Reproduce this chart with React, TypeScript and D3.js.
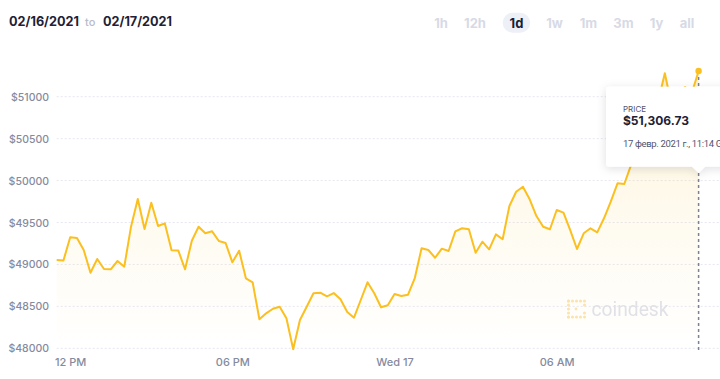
import React from "react";
import * as d3 from "d3";

const W = 720;
const H = 379;

const startTime = new Date(2021, 1, 16, 11, 29);
const stepMinutes = 15;

const prices = [
  49053, 49048, 49324, 49315, 49172, 48901, 49065, 48946, 48942, 49041,
  48973, 49450, 49780, 49422, 49736, 49458, 49490, 49168, 49165, 48942,
  49283, 49450, 49371, 49395, 49279, 49255, 49025, 49164, 48835, 48787,
  48346, 48417, 48472, 48496, 48358, 47988, 48337, 48496, 48656, 48663,
  48620, 48659, 48584, 48433, 48365, 48576, 48787, 48656, 48489, 48513,
  48647, 48624, 48639, 48838, 49192, 49172, 49080, 49188, 49160, 49395,
  49431, 49419, 49140, 49271, 49180, 49359, 49300, 49697, 49867, 49927,
  49777, 49577, 49450, 49419, 49649, 49617, 49410, 49184, 49371, 49431,
  49383, 49550, 49748, 49967, 49959, 50185, 50364, 50567, 50746, 50937,
  51280, 50901, 51044, 51116, 51044, 51306.73,
];

const yTicks = [48000, 48500, 49000, 49500, 50000, 50500, 51000];

const xTickDates = [
  new Date(2021, 1, 16, 12),
  new Date(2021, 1, 16, 18),
  new Date(2021, 1, 17, 0),
  new Date(2021, 1, 17, 6),
];
const xTickLabels = ["12 PM", "06 PM", "Wed 17", "06 AM"];

const ranges = ["1h", "12h", "1d", "1w", "1m", "3m", "1y", "all"];
const rangeX = [441, 475, 516.5, 554.5, 588.5, 623.5, 656.5, 687];
const activeRange = "1d";

const fromDate = "02/16/2021";
const toDate = "02/17/2021";
const tooltipLabel = "PRICE";
const tooltipValue = "$51,306.73";
const tooltipDate = "17 февр. 2021 г., 11:14 GMT+3";

const FONT = "Inter, 'Noto Sans', sans-serif";

export default function App() {
  const data = prices.map((p, i) => ({
    t: new Date(startTime.getTime() + i * stepMinutes * 60000),
    v: p,
  }));
  const x = d3
    .scaleTime()
    .domain([data[0].t, data[data.length - 1].t])
    .range([56.7, 698.6]);
  const y = d3.scaleLinear().domain([48000, 51000]).range([348.3, 96.7]);

  const line = d3
    .line<{ t: Date; v: number }>()
    .x((d) => x(d.t))
    .y((d) => y(d.v));
  const area = d3
    .area<{ t: Date; v: number }>()
    .x((d) => x(d.t))
    .y0(y(48000))
    .y1((d) => y(d.v));

  const last = data[data.length - 1];
  const lx = x(last.t);
  const ly = y(last.v);

  const tipX = 606;
  const tipY = 86.7;
  const tipH = 80;

  return (
    <div style={{ position: "fixed", left: 0, top: 0 }}>
      <svg width={W} height={H} style={{ display: "block", background: "#fff" }}>
        <defs>
          <linearGradient id="fillGrad" x1="0" y1={y(51306)} x2="0" y2={y(48000)} gradientUnits="userSpaceOnUse">
            <stop offset="0" stopColor="#fbd46b" stopOpacity="0.28" />
            <stop offset="0.55" stopColor="#fbd46b" stopOpacity="0.1" />
            <stop offset="1" stopColor="#fbd46b" stopOpacity="0.0" />
          </linearGradient>
          <filter id="shadow" x="-20%" y="-30%" width="140%" height="160%">
            <feDropShadow dx="0" dy="2" stdDeviation="5" floodColor="#1a1f36" floodOpacity="0.13" />
          </filter>
        </defs>

        {/* header */}
        <text x={9} y={25.5} fontFamily={FONT} fontSize={13} fontWeight={700} fill="#1d2236" textLength={70} lengthAdjust="spacingAndGlyphs">
          {fromDate}
        </text>
        <text x={85} y={25.5} fontFamily={FONT} fontSize={11} fontWeight={500} fill="#b9bccb">
          to
        </text>
        <text x={103} y={25.5} fontFamily={FONT} fontSize={13} fontWeight={700} fill="#1d2236" textLength={69} lengthAdjust="spacingAndGlyphs">
          {toDate}
        </text>
        <rect x={502.7} y={12.7} width={27.5} height={20} rx={10} fill="#eef0f8" />
        {ranges.map((r, i) => (
          <text
            key={r}
            x={rangeX[i]}
            y={28.3}
            textAnchor="middle"
            fontFamily={FONT}
            fontSize={13}
            fontWeight={700}
            fill={r === activeRange ? "#1a1f36" : "#d7dae6"}
          >
            {r}
          </text>
        ))}

        {/* grid */}
        {yTicks.map((t) => (
          <g key={t}>
            <line
              x1={56.7}
              x2={W}
              y1={y(t)}
              y2={y(t)}
              stroke="#e6e7f2"
              strokeWidth={1}
              strokeDasharray="2,2"
            />
            <text
              x={49}
              y={y(t) + 4}
              textAnchor="end"
              fontFamily={FONT}
              fontSize={10.5}
              fontWeight={500}
              fill="#858a9e"
            >
              {`$${t}`}
            </text>
          </g>
        ))}

        {/* x axis labels */}
        {xTickDates.map((d, i) => (
          <text
            key={i}
            x={x(d)}
            y={366}
            textAnchor="middle"
            fontFamily={FONT}
            fontSize={11}
            fontWeight={500}
            fill="#858a9e"
          >
            {xTickLabels[i]}
          </text>
        ))}

        {/* watermark */}
        <g opacity={0.9}>
          {[0, 1, 2, 3, 4].map((k) => (
            <g key={k}>
              <circle cx={568.5 + k * 4} cy={301} r={1.6} fill="#fbe3a6" />
              <circle cx={568.5 + k * 4} cy={317} r={1.6} fill="#fbe3a6" />
              <circle cx={568.5} cy={301 + k * 4} r={1.6} fill="#fbe3a6" />
            </g>
          ))}
          <circle cx={584.5} cy={305} r={1.6} fill="#fbe3a6" />
          <circle cx={584.5} cy={313} r={1.6} fill="#fbe3a6" />
          <circle cx={576} cy={309} r={1.4} fill="#fbe3a6" />
          <text x={591.5} y={316} fontFamily="Roboto, 'Open Sans', sans-serif" fontSize={20} fill="#dcdfe9" textLength={77} lengthAdjust="spacingAndGlyphs">
            coindesk
          </text>
        </g>

        {/* area and line */}
        <path d={area(data) || ""} fill="url(#fillGrad)" />
        <path d={line(data) || ""} fill="none" stroke="#fbbf1f" strokeWidth={2} strokeLinejoin="round" />

        {/* hover line */}
        <line x1={lx} x2={lx} y1={ly} y2={350} stroke="#7d8190" strokeWidth={1.5} strokeDasharray="3,3" />
        <circle cx={lx} cy={ly} r={3.2} fill="#fbbf1f" />

        {/* tooltip */}
        <g filter="url(#shadow)">
          <rect x={tipX} y={tipY} width={140} height={tipH} rx={3} fill="#fff" />
          <path d={`M${lx - 7},${tipY + tipH - 0.5} L${lx},${tipY + tipH + 6} L${lx + 7},${tipY + tipH - 0.5} Z`} fill="#fff" />
        </g>
        <text x={623} y={111.7} fontFamily={FONT} fontSize={8} fontWeight={400} fill="#4f5470">
          {tooltipLabel}
        </text>
        <text x={623} y={125.3} fontFamily={FONT} fontSize={12} fontWeight={700} fill="#1d2236">
          {tooltipValue}
        </text>
        <text x={623} y={147} fontFamily="Roboto, 'Noto Sans', sans-serif" fontSize={9.5} letterSpacing={-0.35} fontWeight={400} fill="#4f5470">
          {tooltipDate}
        </text>
      </svg>
    </div>
  );
}
